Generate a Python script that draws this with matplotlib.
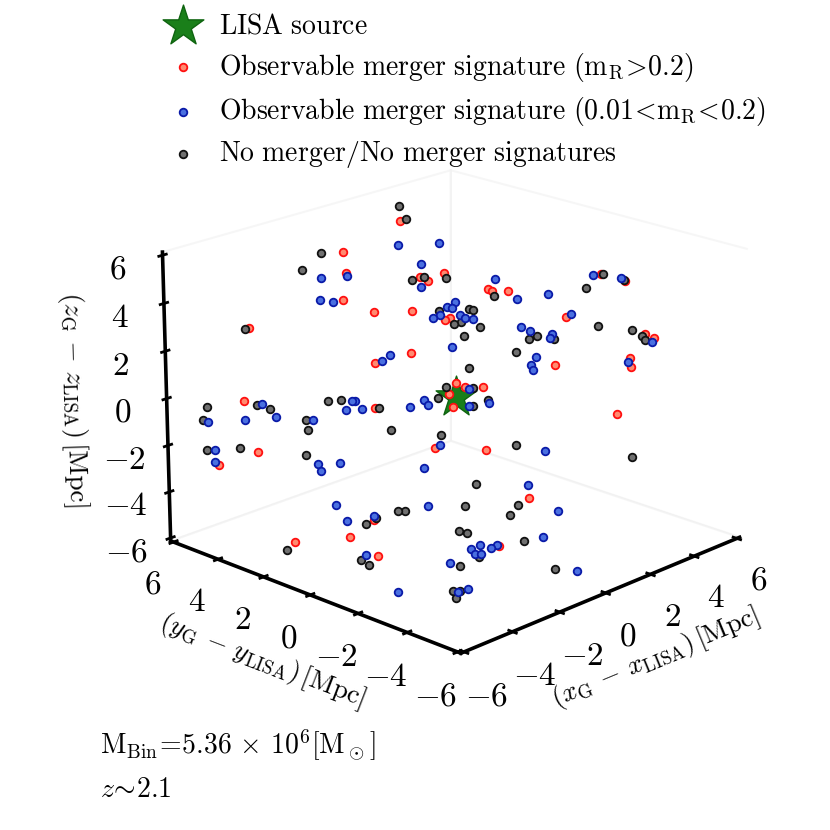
import matplotlib
matplotlib.use("Agg")
import matplotlib.pyplot as plt

plt.rcParams['font.family'] = ['cmr10', 'DejaVu Sans']
plt.rcParams['mathtext.fontset'] = 'cm'
plt.rcParams['axes.formatter.use_mathtext'] = True

tick_vals = [-6, -4, -2, 0, 2, 4, 6]
tick_labels = ['$-6$', '$-4$', '$-2$', '$0$', '$2$', '$4$', '$6$']

red_x = [2.98,0.97,0.57,-0.13,0.27,1.11,2.08,2.18,2.71,3.28,3.32,1.58,1.74,3.65,6.11,6.43,4.26,2.86,5.54,5.65,4.62,4.43,-2.81,-4.56,-5.38,-6.49,0.08,-0.92,-1.95,0.34,-0.08,0.44,0.82,-0.29,-1.60,-0.59,3.02,-0.67,-4.35,-5.21,-6.45,-5.00,-2.37]
red_y = [5.29,5.80,5.27,4.66,3.72,2.92,3.55,3.28,3.13,1.76,1.64,1.99,1.91,1.30,-0.36,-1.05,-0.57,-1.43,-2.69,-2.96,-2.90,-3.09,6.05,4.43,2.94,3.47,1.97,2.48,1.49,0.29,0.21,0.02,-0.36,-0.17,-0.71,-1.81,-3.82,-3.65,-0.90,-0.76,0.28,-1.68,-4.05]
red_z = [5.03,4.13,3.48,2.70,2.38,2.40,3.35,3.25,3.48,3.00,2.95,2.13,2.18,2.95,3.43,3.20,2.20,0.85,1.70,1.60,1.03,0.80,1.93,-0.08,-1.45,-1.80,1.23,0.93,-0.28,0.38,0.08,0.28,0.28,-0.28,-1.38,-1.43,-0.48,-2.78,-3.33,-3.75,-3.88,-4.28,-4.03]

blue_x = [-0.08,-0.61,-0.40,2.35,3.30,0.55,2.42,1.87,3.65,2.25,1.95,2.04,1.39,1.62,2.04,2.06,2.21,3.65,4.45,5.90,6.43,4.45,3.07,3.15,3.55,3.40,2.65,2.35,2.27,5.50,4.49,-5.78,-4.22,-4.94,-4.24,-2.29,-2.21,-2.60,-3.53,-6.24,-6.49,1.09,-0.42,-0.71,-2.25,-1.20,-0.74,-0.78,0.48,0.57,0.08,-1.43,0.61,-0.40,-0.38,-4.39,-4.49,-3.91,-2.29,-4.81,-4.94,-4.28,-2.94,-5.23,-5.36,-1.28,-3.00,-2.73,-2.98,-2.86,-2.58,-2.39,-3.68,-1.26,-4.14,-3.89]
blue_y = [5.71,5.19,4.85,4.75,3.89,5.17,3.84,3.30,1.85,2.21,2.25,2.12,2.31,2.21,1.79,1.60,1.41,0.92,0.34,-0.19,-0.88,-0.63,0.17,-0.13,-0.65,-0.71,-0.84,-0.92,-1.05,-3.02,-2.94,4.68,3.97,3.97,3.36,2.12,2.04,2.06,2.52,3.89,3.63,1.22,2.35,2.39,1.74,0.74,0.61,0.40,-0.11,-0.86,-0.50,-0.76,-3.09,-3.38,-4.54,1.41,1.18,0.97,-0.90,0.23,-0.36,-0.80,-1.72,-1.41,-2.88,-4.77,-3.51,-3.61,-3.65,-3.78,-3.93,-3.99,-3.34,-6.13,-4.10,-4.26]
blue_z = [3.35,2.73,2.65,4.33,4.38,3.40,3.73,3.08,3.28,2.65,2.50,2.48,2.20,2.28,2.28,2.18,2.15,2.73,2.85,3.40,3.30,2.28,1.93,1.80,1.73,1.60,1.08,0.85,0.73,1.48,0.93,-0.65,-0.15,-0.58,-0.53,-0.10,-0.10,-0.33,-0.60,-1.40,-1.70,1.38,1.15,1.00,-0.30,-0.28,-0.08,-0.23,0.23,-0.18,-0.25,-1.30,-1.48,-2.45,-3.13,-1.78,-1.98,-1.75,-1.90,-2.93,-3.35,-3.23,-2.98,-4.25,-5.20,-3.80,-4.08,-3.98,-4.25,-4.25,-4.08,-4.00,-4.48,-4.70,-5.20,-5.15]

black_x = [0.48,-0.29,-2.92,3.32,3.15,1.85,2.18,2.63,3.23,1.70,1.70,2.37,2.44,2.18,1.89,5.42,6.15,6.43,4.73,3.19,2.92,3.47,2.35,5.36,5.42,5.40,-5.46,-5.82,-4.37,-4.18,-2.79,-2.50,-3.68,-3.86,-6.41,-5.67,-4.43,1.62,0.95,-1.85,-0.40,0.04,0.57,0.63,0.15,-2.10,-1.18,2.29,0.17,-1.45,-1.05,-1.45,-4.28,-4.62,-3.68,-3.53,-5.42,-6.78,-5.38,-2.18,-2.86,-2.73,-1.74,-2.96,-3.55,-1.68,-4.24,-4.07,-4.31]
black_y = [6.24,6.30,6.11,5.67,5.21,3.65,3.44,2.96,1.47,2.33,1.70,1.70,1.60,1.05,1.60,-0.34,-0.40,-1.01,-1.49,-0.38,-0.27,-0.82,-0.29,-2.29,-2.65,-2.79,5.08,4.85,4.03,3.68,2.63,2.37,2.67,2.39,4.05,3.40,1.87,1.20,0.36,1.39,0.36,0.42,-0.19,-0.76,-0.57,0.63,-0.55,-5.06,-2.35,-2.25,-3.57,-3.63,-0.88,-0.80,-1.20,-1.34,-1.43,0.27,-1.72,-2.48,-2.90,-3.11,-4.47,-3.80,-3.59,-5.63,-3.99,-4.12,-4.18]
black_z = [4.10,3.58,1.90,5.45,5.08,3.28,3.35,3.33,2.80,2.40,2.03,2.43,2.40,1.93,2.08,3.03,3.43,3.23,1.93,1.68,1.58,1.58,1.23,1.83,1.65,1.55,-0.23,-0.58,-0.20,-0.30,-0.10,-0.08,-0.60,-0.88,-1.40,-1.35,-1.53,1.68,0.78,-0.28,-0.03,0.28,0.23,-0.08,-0.25,-0.88,-1.03,-1.65,-1.30,-2.40,-2.95,-3.23,-3.28,-3.43,-3.10,-3.10,-4.38,-4.08,-4.53,-2.98,-3.63,-3.68,-3.90,-4.33,-4.55,-4.65,-5.20,-5.18,-5.35]

fig = plt.figure(figsize=(8.3, 8.3), dpi=100)
ax = fig.add_axes([0.138, 0.111, 0.8, 0.8], projection='3d', computed_zorder=False)
ax.view_init(elev=19.5, azim=-136)
ax.set_box_aspect((4, 4, 3), zoom=0.955)

ax.scatter([0], [0], [0], marker='*', s=950, c='#1a7f1a', edgecolors='#0f6410', linewidths=1,
           depthshade=False, zorder=1, label=r'$\mathrm{LISA\ source}$')
ax.scatter(red_x, red_y, red_z, s=30, c='#ff8a70', edgecolors='#ff1010', linewidths=1.3, depthshade=False, zorder=2,
           label=r'$\mathrm{Observable\ merger\ signature\ (m_R\!>\!0.2)}$')
ax.scatter(blue_x, blue_y, blue_z, s=30, c='#4a70e0', edgecolors='#0a1aa8', linewidths=1.3, depthshade=False, zorder=4,
           label=r'$\mathrm{Observable\ merger\ signature\ (0.01\!<\!m_R\!<\!0.2)}$')
ax.scatter(black_x, black_y, black_z, s=30, c='#707070', edgecolors='#111111', linewidths=1.3, depthshade=False, zorder=3,
           label=r'$\mathrm{No\ merger/No\ merger\ signatures}$')

ax.set_xlim(-6.13, 6.13); ax.set_ylim(-6.13, 6.13); ax.set_zlim(-6.13, 6.13)
for axis in (ax.xaxis, ax.yaxis, ax.zaxis):
    axis.set_ticks(tick_vals)
    axis.set_ticklabels(tick_labels, fontsize=24)
    axis.pane.set_facecolor('white')
    axis.pane.set_edgecolor('#eeeeee')
    axis.pane.set_linewidth(1.5)
    axis.line.set_color('black')
    axis.line.set_linewidth(2.6)
    axis._axinfo['tick']['inward_factor'] = 0.15
    axis._axinfo['tick']['outward_factor'] = 0.15
    axis._axinfo['tick']['linewidth'] = {True: 2.0, False: 1.0}
ax.tick_params(axis='x', pad=10)
ax.tick_params(axis='y', pad=10)
ax.tick_params(axis='z', pad=11)
ax.grid(False)
ax.set_xlabel(r'$(x_\mathrm{G}\,-\,x_\mathrm{LISA})\,[\mathrm{Mpc}]$', fontsize=19.5, labelpad=19)
ax.set_ylabel(r'$(y_\mathrm{G}\,-\,y_\mathrm{LISA})\,[\mathrm{Mpc}]$', fontsize=19.5, labelpad=19)
ax.set_zlabel(r'$(z_\mathrm{G}\,-\,z_\mathrm{LISA})\,[\mathrm{Mpc}]$', fontsize=19.5, labelpad=19)

ax.legend(loc='upper left', bbox_to_anchor=(0.194, 0.984), bbox_transform=fig.transFigure, frameon=False,
          fontsize=20, labelspacing=0.40, handletextpad=0.5, handlelength=1.6, borderpad=0, borderaxespad=0, scatterpoints=1)

fig.text(100/830, 1-745/830, r'$\mathrm{M_{Bin}\!=\!5.36\,\times\,10^6[M_\odot]}$', fontsize=20, va='center')
fig.text(100/830, 1-790/830, r'$z\!\sim\!2.1$', fontsize=20, va='center')

fig.savefig('out.png', dpi=100)
